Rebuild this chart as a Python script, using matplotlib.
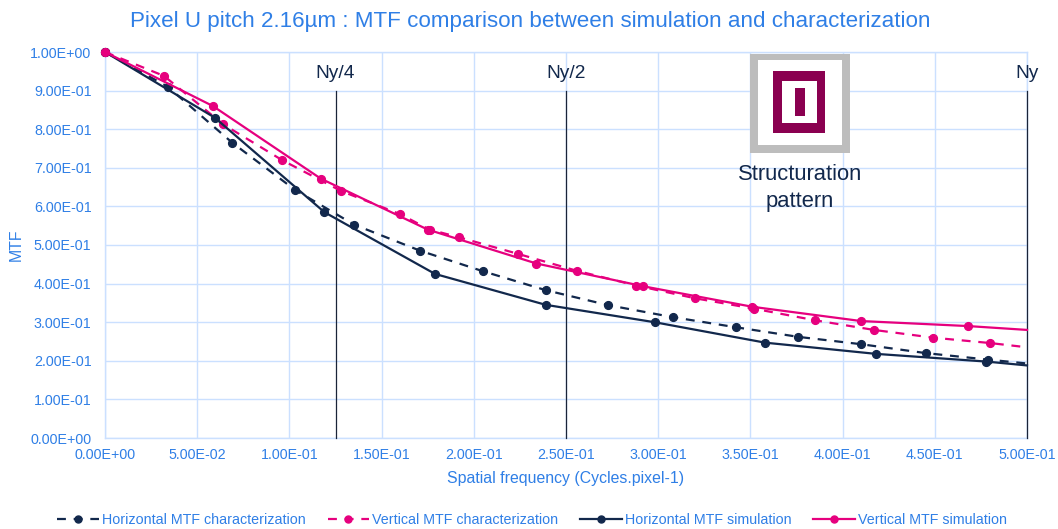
import matplotlib as mpl
import matplotlib.pyplot as plt
from matplotlib.patches import Rectangle

plt.rcParams['font.family'] = ['Liberation Sans', 'DejaVu Sans']

# values
h_char_x = [0, 0.034, 0.069, 0.103, 0.135, 0.171, 0.205, 0.239, 0.273, 0.308, 0.342, 0.376, 0.41, 0.445, 0.479, 0.5]
h_char_y = [1, 0.91, 0.765, 0.643, 0.553, 0.485, 0.432, 0.383, 0.344, 0.313, 0.287, 0.262, 0.243, 0.22, 0.203, 0.193]
v_char_x = [0, 0.032, 0.064, 0.096, 0.128, 0.16, 0.176, 0.192, 0.224, 0.256, 0.288, 0.32, 0.352, 0.385, 0.417, 0.449, 0.48, 0.5]
v_char_y = [1, 0.938, 0.813, 0.72, 0.64, 0.58, 0.54, 0.52, 0.477, 0.433, 0.395, 0.362, 0.335, 0.305, 0.28, 0.26, 0.246, 0.235]
h_sim_x = [0, 0.0595, 0.119, 0.179, 0.239, 0.298, 0.358, 0.418, 0.478, 0.5]
h_sim_y = [1, 0.83, 0.585, 0.425, 0.345, 0.3, 0.247, 0.218, 0.198, 0.188]
v_sim_x = [0, 0.0585, 0.117, 0.175, 0.234, 0.292, 0.351, 0.41, 0.468, 0.5]
v_sim_y = [1, 0.86, 0.672, 0.54, 0.452, 0.393, 0.34, 0.303, 0.29, 0.28]

ny_x = [0.125, 0.25, 0.5]
ny_labels = ['Ny/4', 'Ny/2', 'Ny']
x_ticks = [i * 0.05 for i in range(11)]
y_ticks = [i * 0.1 for i in range(11)]

W, H = 1058, 529
NAVY = '#12284c'
PINK = '#e6007e'
BLUE = '#2f7fe6'
GRID = '#cbe0ff'

fig = plt.figure(figsize=(W / 100, H / 100), dpi=100, facecolor='w')
ax = fig.add_axes([105 / W, 1 - 438 / H, 922 / W, 386 / H])

# the last point of each series sits on the right edge and has no visible marker
style = dict(lw=1.6, marker='o', ms=5.6, markevery=slice(0, -1), zorder=4, clip_on=False)
dash = (0, (4, 3.5))
ax.plot(h_char_x, h_char_y, color=NAVY, ls=dash, label='Horizontal MTF characterization', **style)
ax.plot(v_char_x, v_char_y, color=PINK, ls=dash, label='Vertical MTF characterization', **style)
ax.plot(h_sim_x, h_sim_y, color=NAVY, label='Horizontal MTF simulation', **style)
ax.plot(v_sim_x, v_sim_y, color=PINK, label='Vertical MTF simulation', **style)

for x, lab in zip(ny_x, ny_labels):
    ax.plot([x, x], [0, 0.9], color='#1a2438', lw=0.9, zorder=3, clip_on=False)
    ax.text(x, 0.945, lab, color=NAVY, fontsize=13.8, ha='center', va='center', clip_on=False)

ax.set_xlim(0, 0.5)
ax.set_ylim(0, 1)
ax.set_xticks(x_ticks)
ax.set_yticks(y_ticks)
ax.xaxis.set_major_formatter(lambda v, p: '%.2E' % v)
ax.yaxis.set_major_formatter(lambda v, p: '%.2E' % v)
ax.tick_params(axis='y', length=0, labelsize=10.3, labelcolor=BLUE, pad=9.7)
ax.tick_params(axis='x', length=0, labelsize=10.3, labelcolor=BLUE, pad=7.5)
ax.grid(color=GRID, lw=1)
ax.set_axisbelow(True)
for s in ax.spines.values():
    s.set_color(GRID)
    s.set_linewidth(1)

ax.set_xlabel('Spatial frequency (Cycles.pixel-1)', color=BLUE, fontsize=11.4, labelpad=6)
fig.text(16 / W, 1 - 245 / H, 'MTF', color=BLUE, fontsize=11.4, rotation=90, ha='center', va='center')
fig.text(530 / W, 1 - 21 / H, 'Pixel U pitch 2.16µm : MTF comparison between simulation and characterization',
         color=BLUE, fontsize=16.1, ha='center', va='center')

# structuration pattern, pixel boxes
def box(x0, y0, x1, y1, c):
    fig.add_artist(Rectangle((x0 / W, 1 - y1 / H), (x1 - x0) / W, (y1 - y0) / H,
                             transform=fig.transFigure, fc=c, ec='none', zorder=5))

box(750, 54, 850, 153, '#bdbdbd')
box(758, 60, 842, 145, '#ffffff')
box(773, 71, 825, 133, '#8a0050')
box(782, 81, 817, 123, '#ffffff')
box(795, 88, 805, 116, '#8a0050')
fig.text(800 / W, 1 - 174 / H, 'Structuration', color=NAVY, fontsize=15.8, ha='center', va='center', zorder=6)
fig.text(800 / W, 1 - 201 / H, 'pattern', color=NAVY, fontsize=15.8, ha='center', va='center', zorder=6)

fig.legend(loc='center', bbox_to_anchor=(532 / W, 1 - 520 / H), ncol=4, frameon=False, fontsize=10.3,
           labelcolor=BLUE, handlelength=2.9, handletextpad=0.2, columnspacing=1.55, markerscale=0.9,
           borderpad=0, borderaxespad=0)

fig.savefig('out.png', dpi=100)
